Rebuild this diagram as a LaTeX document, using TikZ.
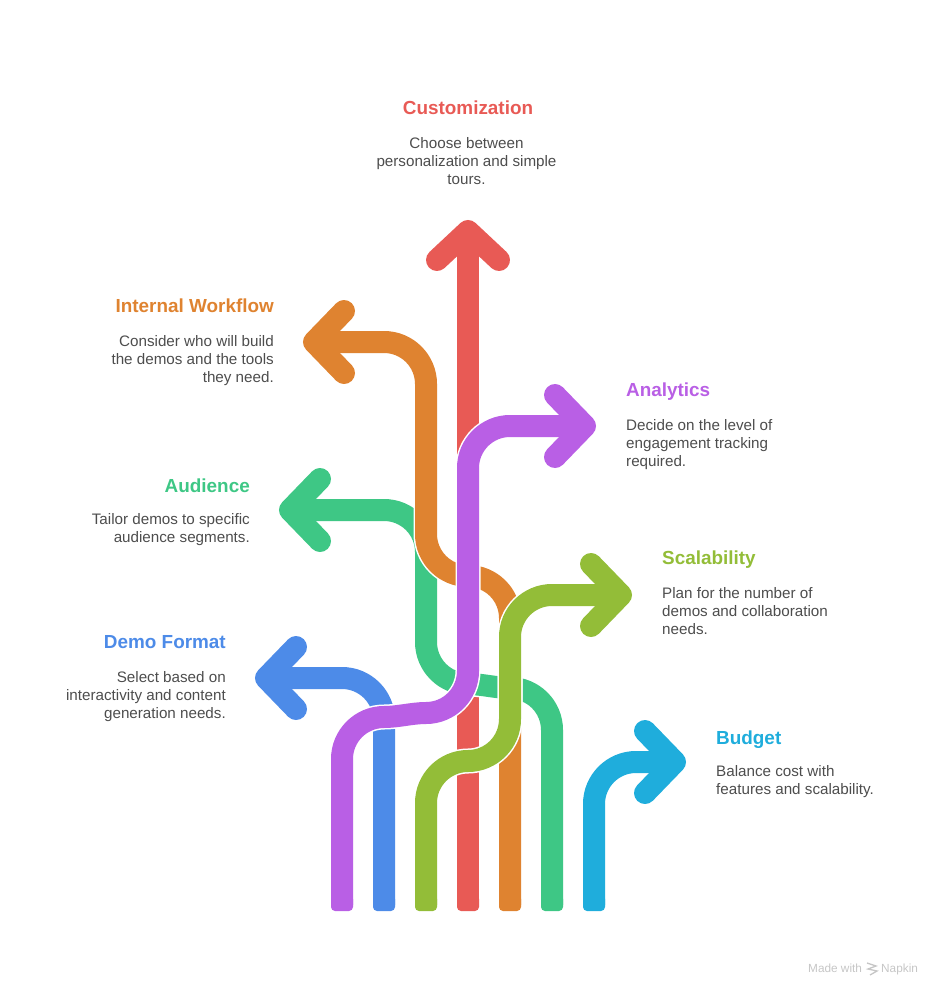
\documentclass[tikz,border=0pt]{standalone}
\usepackage{fontspec}
\setmainfont{Liberation Sans}
\definecolor{redlane}{HTML}{E85A55}
\definecolor{orangelane}{HTML}{DF8330}
\definecolor{purplelane}{HTML}{B95FE5}
\definecolor{greenlane}{HTML}{3EC785}
\definecolor{olivelane}{HTML}{93BD38}
\definecolor{bluelane}{HTML}{4D8BE8}
\definecolor{cyanlane}{HTML}{1FADDC}
\definecolor{bodygray}{HTML}{4D4D4D}
\definecolor{markgray}{HTML}{C6C6C6}
\tikzset{
  lane/.style={line width=22pt,preaction={draw=white,line width=25pt}},
  chevron/.style={line width=22pt,line cap=round,line join=round},
  foot/.style={rounded corners=4pt},
  title/.style={font=\fontsize{18.9}{22}\selectfont\bfseries,inner sep=0pt},
  body/.style={font=\fontsize{15.2}{18}\selectfont,text=bodygray,inner sep=0pt},
}
\begin{document}
\begin{tikzpicture}[x=1pt,y=1pt]
        \useasboundingbox (0,0) rectangle (941,-996);
        \coordinate (tipCustom) at (468,-231);
        \coordinate (tipWorkflow) at (314,-342);
        \coordinate (tipAnalytics) at (585,-426);
        \coordinate (tipAudience) at (290,-510);
        \coordinate (tipScale) at (621,-595);
        \coordinate (tipFormat) at (266,-678);
        \coordinate (tipBudget) at (675,-762);
        % lanes, lowest first
        \draw [redlane,lane] (468,-905) -- (tipCustom);
        \fill [redlane,foot] (457,-895) rectangle (479,-911);
        \draw [redlane,chevron] (tipCustom) ++(-31,-29) -- (tipCustom) -- ++(31,-29);
        \draw [bluelane,lane] (384,-905) -- (384,-720) arc (0:90:42) -- (tipFormat);
        \fill [bluelane,foot] (373,-895) rectangle (395,-911);
        \draw [bluelane,chevron] (tipFormat) ++(30,31) -- (tipFormat) -- ++(30,-31);
        \draw [greenlane,lane] (552,-905) -- (552,-730) arc (0:90:42) .. controls (496,-688) and (482,-684) .. (468,-684) arc (270:180:42) -- (426,-552) arc (0:90:42) -- (tipAudience);
        \fill [greenlane,foot] (541,-895) rectangle (563,-911);
        \draw [greenlane,chevron] (tipAudience) ++(30,31) -- (tipAudience) -- ++(30,-31);
        \draw [orangelane,lane] (510,-905) -- (510,-618) arc (0:90:42) arc (270:180:42) -- (426,-384) arc (0:90:42) -- (tipWorkflow);
        \fill [orangelane,foot] (499,-895) rectangle (521,-911);
        \draw [orangelane,chevron] (tipWorkflow) ++(30,31) -- (tipWorkflow) -- ++(30,-31);
        \draw [cyanlane,lane] (594,-905) -- (594,-804) arc (180:90:42) -- (tipBudget);
        \fill [cyanlane,foot] (583,-895) rectangle (605,-911);
        \draw [cyanlane,chevron] (tipBudget) ++(-30,31) -- (tipBudget) -- ++(-30,-31);
        \draw [olivelane,lane] (426,-905) -- (426,-803) arc (180:90:42) arc (270:360:42) -- (510,-637) arc (180:90:42) -- (tipScale);
        \fill [olivelane,foot] (415,-895) rectangle (437,-911);
        \draw [olivelane,chevron] (tipScale) ++(-30,31) -- (tipScale) -- ++(-30,-31);
        \draw [purplelane,lane] (342,-905) -- (342,-759) arc (180:90:42) .. controls (398,-717) and (412,-713) .. (426,-713) arc (270:360:42) -- (468,-468) arc (180:90:42) -- (tipAnalytics);
        \fill [purplelane,foot] (331,-895) rectangle (353,-911);
        \draw [purplelane,chevron] (tipAnalytics) ++(-30,31) -- (tipAnalytics) -- ++(-30,-31);
        % labels
        \node [title,text=redlane,anchor=base] (customT) at (468,-114) {Customization};
        \node [body,align=center,anchor=north] (customB) at (466.5,-137.5) {Choose between\\personalization and simple\\tours.};
        \node [title,text=orangelane,anchor=base east] (workflowT) at (274,-312) {Internal Workflow};
        \node [body,align=right,anchor=north east] (workflowB) at (274,-335.5) {Consider who will build\\the demos and the tools\\they need.};
        \node [title,text=purplelane,anchor=base west] (analyticsT) at (626,-396) {Analytics};
        \node [body,align=left,anchor=north west] (analyticsB) at (626,-419.5) {Decide on the level of\\engagement tracking\\required.};
        \node [title,text=greenlane,anchor=base east] (audienceT) at (250,-492) {Audience};
        \node [body,align=right,anchor=north east] (audienceB) at (250,-513.5) {Tailor demos to specific\\audience segments.};
        \node [title,text=olivelane,anchor=base west] (scaleT) at (662,-564) {Scalability};
        \node [body,align=left,anchor=north west] (scaleB) at (662,-587.5) {Plan for the number of\\demos and collaboration\\needs.};
        \node [title,text=bluelane,anchor=base east] (formatT) at (226,-648) {Demo Format};
        \node [body,align=right,anchor=north east] (formatB) at (226,-671.5) {Select based on\\interactivity and content\\generation needs.};
        \node [title,text=cyanlane,anchor=base west] (budgetT) at (716,-744) {Budget};
        \node [body,align=left,anchor=north west] (budgetB) at (716,-765.5) {Balance cost with\\features and scalability.};
        % watermark
        \node [font=\fontsize{11.8}{13}\selectfont,text=markgray,inner sep=0pt,anchor=base west] (madeT) at (808,-972) {Made with};
        \node [font=\fontsize{11.8}{13}\selectfont,text=markgray,inner sep=0pt,anchor=base west] (napkinT) at (881,-972) {Napkin};
        \draw [markgray,line width=1.3pt] (867,-963) -- (876,-966) -- (868,-969) -- (877,-971) -- (870,-975);
\end{tikzpicture}
\end{document}
